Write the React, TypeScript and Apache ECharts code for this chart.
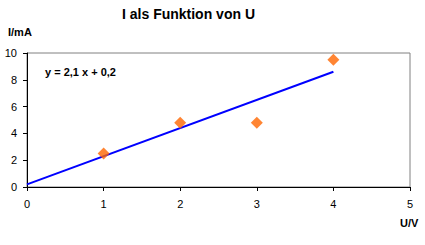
import React, { useEffect, useRef } from "react";
import * as echarts from "echarts";

const measuredU = [1, 2, 3, 4];
const measuredI = [2.5, 4.8, 4.8, 9.5];
const trendU = [0, 4];
const trendI = [0.2, 8.6];
const xTicks = [0, 1, 2, 3, 4, 5];
const yTicks = [0, 2, 4, 6, 8, 10];
const titleText = "I als Funktion von U";
const equationText = "y = 2,1 x + 0,2";
const yAxisName = "I/mA";
const xAxisName = "U/V";

export default function App() {
  const ref = useRef<HTMLDivElement>(null);
  useEffect(() => {
    if (!ref.current) return;
    const chart = echarts.init(ref.current, undefined, { renderer: "svg" });
    const font = "Arial, 'Liberation Sans', sans-serif";
    chart.setOption({
      animation: false,
      backgroundColor: "#ffffff",
      textStyle: { fontFamily: font },
      grid: {
        left: 27,
        right: 15,
        top: 53,
        bottom: 58,
        show: true,
        borderColor: "#808080",
        borderWidth: 1,
        backgroundColor: "transparent",
      },
      xAxis: {
        type: "value",
        min: xTicks[0],
        max: xTicks[xTicks.length - 1],
        interval: 1,
        axisLine: { show: true, onZero: false, lineStyle: { color: "#000", width: 1 } },
        axisTick: { show: true, length: 4, lineStyle: { color: "#000" } },
        splitLine: { show: false },
        axisLabel: { color: "#000", fontSize: 11, fontFamily: font, margin: 11 },
      },
      yAxis: {
        type: "value",
        min: yTicks[0],
        max: yTicks[yTicks.length - 1],
        interval: 2,
        axisLine: { show: true, onZero: false, lineStyle: { color: "#000", width: 1 } },
        axisTick: { show: true, length: 4, lineStyle: { color: "#000" } },
        splitLine: { show: false },
        axisLabel: { color: "#000", fontSize: 11, fontFamily: font, margin: 10 },
      },
      graphic: [
        {
          type: "text",
          left: 122,
          top: 7,
          style: {
            text: titleText,
            fill: "#000",
            font: `bold 14px ${font}`,
          },
        },
        {
          type: "text",
          left: 8,
          top: 26,
          style: { text: yAxisName, fill: "#000", font: `bold 11px ${font}` },
        },
        {
          type: "text",
          left: 400,
          top: 217,
          style: { text: xAxisName, fill: "#000", font: `bold 11px ${font}` },
        },
        {
          type: "text",
          left: 45,
          top: 66,
          style: { text: equationText, fill: "#000", font: `bold 11px ${font}` },
        },
      ],
      series: [
        {
          type: "line",
          data: trendU.map((u, i) => [u, trendI[i]]),
          showSymbol: false,
          symbol: "none",
          lineStyle: { color: "#0000FF", width: 2 },
          z: 2,
        },
        {
          type: "scatter",
          data: measuredU.map((u, i) => [u, measuredI[i]]),
          symbol: "diamond",
          symbolSize: [12, 12],
          itemStyle: { color: "#FF6600" },
          z: 3,
        },
      ],
    });
    return () => chart.dispose();
  }, []);
  return <div ref={ref} style={{ width: 425, height: 245, position: "absolute", left: 0, top: 0 }} />;
}
